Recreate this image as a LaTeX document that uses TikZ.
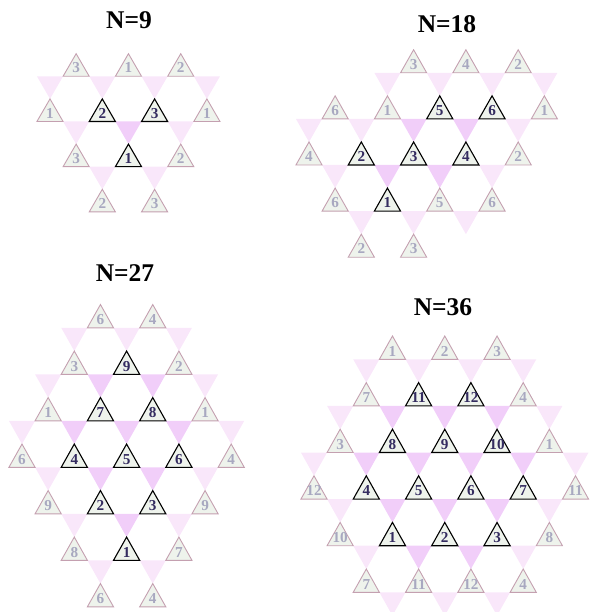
\documentclass[tikz,border=0pt]{standalone}
\usepackage{fontspec}
\setmainfont{Liberation Serif}
\definecolor{upfill}{RGB}{238,243,236}
\definecolor{dndark}{RGB}{241,206,249}
\definecolor{dnlite}{RGB}{249,231,250}
\definecolor{litedge}{RGB}{196,160,176}
\definecolor{lablite}{RGB}{168,168,192}
\definecolor{labdark}{RGB}{52,44,96}
\tikzset{
  upD/.style={draw=black, line width=1.1pt, fill=upfill, line join=miter},
  upL/.style={draw=litedge, line width=0.9pt, fill=upfill, line join=miter},
  labD/.style={anchor=base, inner sep=0pt, text=labdark, font=\bfseries\fontsize{15.2}{16}\selectfont},
  labL/.style={anchor=base, inner sep=0pt, text=lablite, font=\bfseries\fontsize{15.2}{16}\selectfont},
  dnD/.style={fill=dndark},
  dnL/.style={fill=dnlite},
  paneltitle/.style={anchor=base, inner sep=0pt, font=\bfseries\fontsize{25.5}{27}\selectfont}
}
% upward triangle with its number: shade (D/L), column, row, number
\newcommand\upTri[4]{%
  \draw[up#1] ({#2*\kA-\kA/2},{#3*\kS}) -- ({#2*\kA+\kA/2},{#3*\kS})
     -- ({#2*\kA},{#3*\kS-\kS/2}) -- cycle;
  \node[lab#1] at ({#2*\kA},{#3*\kS-3.3}) {#4};
}
% downward (pink) triangle: shade (D/L), column, row
\newcommand\dnTri[3]{%
  \fill[dn#1] ({#2*\kA-\kA/2},{#3*\kS}) -- ({#2*\kA+\kA/2},{#3*\kS})
     -- ({#2*\kA},{#3*\kS+\kS/2}) -- cycle;
}
\begin{document}
\begin{tikzpicture}[x=1pt,y=-1pt]
\useasboundingbox (0,0) rectangle (590,612);
\clip (0,0) rectangle (590,612);
\def\kA{26.15}

% ---------------- N=9 ----------------
\node[paneltitle] (t9) at (129,28.3) {N=9};
\begin{scope}[shift={(50,76.3)}]
  \def\kS{45.2}
  \foreach \p/\q in {0/0,2/0,4/0,6/0,1/1,5/1,2/2,4/2} {\dnTri{L}{\p}{\q}}
  \foreach \p/\q in {3/1} {\dnTri{D}{\p}{\q}}
  \foreach \p/\q/\w in {1/0/3,3/0/1,5/0/2,0/1/1,6/1/1,1/2/3,5/2/2,2/3/2,4/3/3} {\upTri{L}{\p}{\q}{\w}}
  \foreach \p/\q/\w in {2/1/2,4/1/3,3/2/1} {\upTri{D}{\p}{\q}{\w}}
\end{scope}

% ---------------- N=18 ----------------
\node[paneltitle] (t18) at (447,33) {N=18};
\begin{scope}[shift={(309,72.8)}]
  \def\kS{46.1}
  \foreach \p/\q in {3/0,5/0,7/0,9/0,0/1,2/1,8/1,1/2,7/2,2/3,4/3,6/3} {\dnTri{L}{\p}{\q}}
  \foreach \p/\q in {4/1,6/1,3/2,5/2} {\dnTri{D}{\p}{\q}}
  \foreach \p/\q/\w in {4/0/3,6/0/4,8/0/2,1/1/6,3/1/1,9/1/1,0/2/4,8/2/2,1/3/6,5/3/5,7/3/6,2/4/2,4/4/3} {\upTri{L}{\p}{\q}{\w}}
  \foreach \p/\q/\w in {5/1/5,7/1/6,2/2/2,4/2/3,6/2/4,3/3/1} {\upTri{D}{\p}{\q}{\w}}
\end{scope}

% ---------------- N=27 ----------------
\node[paneltitle] (t27) at (125,281.7) {N=27};
\begin{scope}[shift={(22,327.8)}]
  \def\kS{46.5}
  \foreach \p/\q in {2/0,4/0,6/0,1/1,7/1,0/2,8/2,1/3,7/3,2/4,6/4,3/5,5/5} {\dnTri{L}{\p}{\q}}
  \foreach \p/\q in {3/1,5/1,2/2,4/2,6/2,3/3,5/3,4/4} {\dnTri{D}{\p}{\q}}
  \foreach \p/\q/\w in {3/0/6,5/0/4,2/1/3,6/1/2,1/2/1,7/2/1,0/3/6,8/3/4,1/4/9,7/4/9,2/5/8,6/5/7,3/6/6,5/6/4} {\upTri{L}{\p}{\q}{\w}}
  \foreach \p/\q/\w in {4/1/9,3/2/7,5/2/8,2/3/4,4/3/5,6/3/6,3/4/2,5/4/3,4/5/1} {\upTri{D}{\p}{\q}{\w}}
\end{scope}

% ---------------- N=36 ----------------
\node[paneltitle] (t36) at (443,315) {N=36};
\begin{scope}[shift={(314,359.3)}]
  \def\kS{46.6}
  \foreach \p/\q in {2/0,4/0,6/0,8/0,1/1,9/1,0/2,10/2,1/3,9/3,2/4,8/4,3/5,5/5,7/5} {\dnTri{L}{\p}{\q}}
  \foreach \p/\q in {3/1,5/1,7/1,2/2,4/2,6/2,8/2,3/3,5/3,7/3,4/4,6/4} {\dnTri{D}{\p}{\q}}
  \foreach \p/\q/\w in {3/0/1,5/0/2,7/0/3,2/1/7,8/1/4,1/2/3,9/2/1,0/3/12,10/3/11,1/4/10,9/4/8,2/5/7,4/5/11,6/5/12,8/5/4} {\upTri{L}{\p}{\q}{\w}}
  \foreach \p/\q/\w in {4/1/11,6/1/12,3/2/8,5/2/9,7/2/10,2/3/4,4/3/5,6/3/6,8/3/7,3/4/1,5/4/2,7/4/3} {\upTri{D}{\p}{\q}{\w}}
\end{scope}
\end{tikzpicture}
\end{document}
